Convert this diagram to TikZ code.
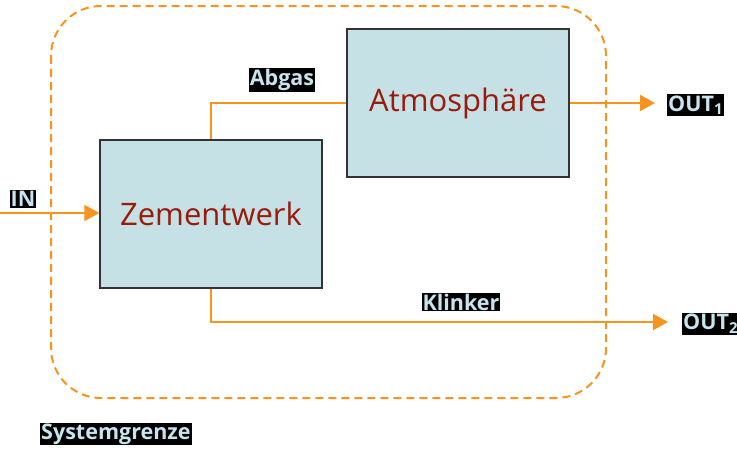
\documentclass[tikz,border=0pt]{standalone}
\usepackage{fontspec}
\setmainfont{Open Sans}
\usetikzlibrary{arrows.meta}
\definecolor{flow}{HTML}{F7941D}
\definecolor{boxfill}{HTML}{C5E1E6}
\definecolor{boxline}{HTML}{333333}
\definecolor{boxtext}{HTML}{9A1A0B}
\definecolor{tagtext}{HTML}{C8E4EC}
\tikzset{
  unit/.style={draw=boxline, line width=1.4pt, fill=boxfill, text=boxtext,
    font=\fontsize{31}{31}\selectfont, inner sep=0pt},
  flowline/.style={draw=flow, line width=2pt},
  flowarrow/.style={flowline, -{Triangle[length=15pt,width=16pt]}},
  tag/.style={fill=black, text=tagtext, inner sep=1pt,
    font=\fontsize{21.5}{21.5}\selectfont\bfseries},
  boundary/.style={draw=flow, line width=2pt, dash pattern=on 8pt off 5pt,
    rounded corners=50pt}
}
\begin{document}
\begin{tikzpicture}[x=1pt, y=-1pt]
\useasboundingbox (0,0) rectangle (737,448);
% system boundary
\draw[boundary] (51,6) rectangle (606,398);
% process boxes
\node[unit, minimum width=222pt, minimum height=148pt] (zw) at (211,214) {Zementwerk};
\node[unit, minimum width=222pt, minimum height=148pt] (atm) at (458,103) {Atmosphäre};
% free ends
\coordinate (in) at (0,213);
\coordinate (out1) at (655,103);
\coordinate (out2) at (668,322);
% flows
\draw[flowarrow] (in) -- (zw.west |- in);
\draw[flowline] (zw.north) |- (atm.west);
\draw[flowarrow] (atm.east) -- (out1);
\draw[flowarrow] (zw.south) |- (out2);
% labels
\node[tag] (lin) at (23,199) {IN};
\node[tag] (labgas) at (282,80) {Abgas};
\node[tag] (lklinker) at (461,302) {Klinker};
\node[tag, anchor=west] (lout1) at (667,105) {OUT\textsubscript{1}};
\node[tag, anchor=west] (lout2) at (682,324) {OUT\textsubscript{2}};
\node[tag, anchor=west] (lsys) at (40,434) {Systemgrenze};
\end{tikzpicture}
\end{document}
